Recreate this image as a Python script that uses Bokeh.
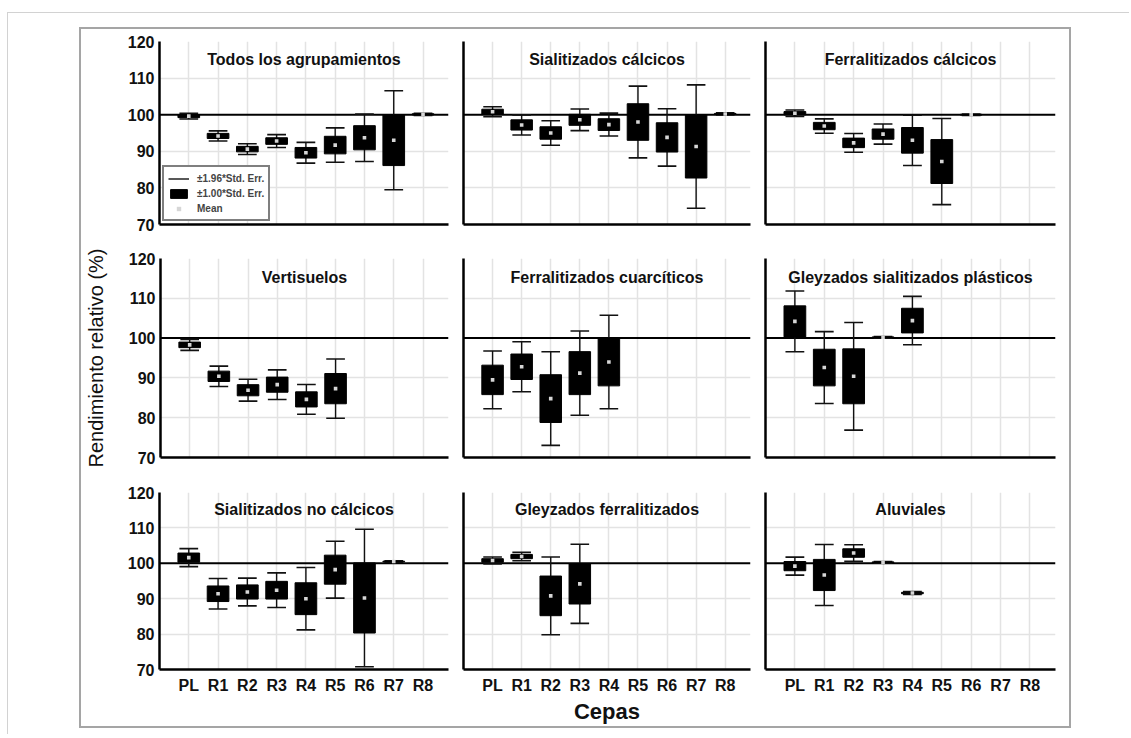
import numpy as np
from bokeh.plotting import figure
from bokeh.layouts import row, column
from bokeh.models import (ColumnDataSource, Range1d, FixedTicker, Span, Label,
                          Legend, LegendItem)
from bokeh.embed import file_html
from bokeh.resources import INLINE

# ---- data: relative yield (%) per strain, mean and standard error ----
strains = ["PL", "R1", "R2", "R3", "R4", "R5", "R6", "R7", "R8"]
y_ticks = [70, 80, 90, 100, 110, 120]

mean_todos = [99.6, 94.2, 90.6, 92.8, 89.6, 91.7, 93.7, 93.0, 100.1]
se_todos = [0.4, 0.7, 0.75, 0.9, 1.45, 2.4, 3.3, 6.9, 0.15]

mean_sial_calc = [100.8, 97.2, 95.0, 98.6, 97.3, 98.0, 93.8, 91.3, 100.2]
se_sial_calc = [0.7, 1.4, 1.7, 1.5, 1.6, 5.0, 4.0, 8.6, 0.15]

mean_ferr_calc = [100.4, 96.9, 92.3, 94.7, 93.0, 87.2, 100.0, None, None]
se_ferr_calc = [0.45, 1.0, 1.3, 1.4, 3.5, 6.0, 0.1, None, None]

mean_vert = [98.3, 90.4, 86.9, 88.3, 84.6, 87.3, None, None, None]
se_vert = [0.7, 1.3, 1.4, 1.9, 1.9, 3.8, None, None, None]

mean_ferr_cuar = [89.5, 92.8, 84.8, 91.2, 94.0, None, None, None, None]
se_ferr_cuar = [3.7, 3.2, 6.0, 5.4, 6.0, None, None, None, None]

mean_gley_sial = [104.2, 92.6, 90.4, 100.2, 104.4, None, None, None, None]
se_gley_sial = [3.9, 4.6, 6.9, 0.1, 3.1, None, None, None, None]

mean_sial_nocalc = [101.6, 91.4, 91.9, 92.4, 90.0, 98.2, 90.2, 100.5, None]
se_sial_nocalc = [1.3, 2.2, 2.0, 2.5, 4.5, 4.1, 9.9, 0.1, None]

mean_gley_ferr = [100.8, 101.9, 90.8, 94.2, None, None, None, None, None]
se_gley_ferr = [0.5, 0.6, 5.6, 5.7, None, None, None, None, None]

mean_aluv = [99.2, 96.7, 102.9, 100.3, 91.6, None, None, None, None]
se_aluv = [1.3, 4.4, 1.2, 0.1, 0.2, None, None, None, None]

panels = [
    ("Todos los agrupamientos", mean_todos, se_todos),
    ("Sialitizados cálcicos", mean_sial_calc, se_sial_calc),
    ("Ferralitizados cálcicos", mean_ferr_calc, se_ferr_calc),
    ("Vertisuelos", mean_vert, se_vert),
    ("Ferralitizados cuarcíticos", mean_ferr_cuar, se_ferr_cuar),
    ("Gleyzados sialitizados plásticos", mean_gley_sial, se_gley_sial),
    ("Sialitizados no cálcicos", mean_sial_nocalc, se_sial_nocalc),
    ("Gleyzados ferralitizados", mean_gley_ferr, se_gley_ferr),
    ("Aluviales", mean_aluv, se_aluv),
]

# ---- layout geometry (pixels) ----
FONT = "Liberation Sans"
COL_LEFT = [78, 8, 8]
COL_FRAME = [289, 287, 290]
COL_RIGHT = [7, 7, 14]
ROW_TOP = [12, 17, 17]
ROW_FRAME = [183, 199, 178]
ROW_BOTTOM = [17, 18, 56]
BOX_W = 0.74
CAP_W = 0.64


def make_panel(r, c, title, means, ses):
    p = figure(width=COL_LEFT[c] + COL_FRAME[c] + COL_RIGHT[c],
               height=ROW_TOP[r] + ROW_FRAME[r] + ROW_BOTTOM[r],
               x_range=Range1d(0, 9.87), y_range=Range1d(70, 120),
               output_backend="svg", toolbar_location=None, min_border=0,
               min_border_left=COL_LEFT[c], min_border_right=COL_RIGHT[c],
               min_border_top=ROW_TOP[r], min_border_bottom=ROW_BOTTOM[r])
    p.outline_line_color = None
    p.background_fill_color = "white"
    p.border_fill_color = "white"

    # grid: vertical lines at each strain, horizontal every 10 %
    p.xgrid.ticker = FixedTicker(ticks=list(range(1, len(strains) + 1)))
    p.ygrid.ticker = FixedTicker(ticks=[80, 90, 110])
    for g in (p.xgrid, p.ygrid):
        g.grid_line_color = "#e3e3e3"
        g.grid_line_width = 1.5

    # axes
    p.xaxis.ticker = FixedTicker(ticks=list(range(1, len(strains) + 1)) if r == 2 else [])
    p.xaxis.major_label_overrides = {i + 1: s for i, s in enumerate(strains)}
    p.yaxis.ticker = FixedTicker(ticks=y_ticks if c == 0 else [])
    for ax in (p.xaxis, p.yaxis):
        ax.axis_line_color = "black"
        ax.axis_line_width = 2.5
        ax.major_tick_line_color = None
        ax.minor_tick_line_color = None
        ax.major_tick_out = 0
        ax.major_label_text_font = FONT
        ax.major_label_text_font_style = "bold"
        ax.major_label_text_font_size = "16px"
        ax.major_label_text_color = "#111111"
    p.xaxis.major_label_standoff = 7
    p.yaxis.major_label_standoff = 5

    # reference line at 100 %
    p.add_layout(Span(location=100, dimension="width", line_color="black",
                      line_width=2, level="underlay"))

    keep = [i for i, m in enumerate(means) if m is not None]
    x = np.array([i + 1 for i in keep], dtype=float)
    m = np.array([means[i] for i in keep], dtype=float)
    s = np.array([ses[i] for i in keep], dtype=float)
    src = ColumnDataSource(dict(
        x=x, mean=m, lo1=m - s, hi1=m + s, lo2=m - 1.96 * s, hi2=m + 1.96 * s,
        cl=x - CAP_W / 2, cr=x + CAP_W / 2))

    whisk = p.segment(x0="x", y0="lo2", x1="x", y1="hi2", source=src,
                      line_color="#111111", line_width=1.4)
    p.segment(x0="cl", y0="lo2", x1="cr", y1="lo2", source=src,
              line_color="#111111", line_width=1.6)
    p.segment(x0="cl", y0="hi2", x1="cr", y1="hi2", source=src,
              line_color="#111111", line_width=1.6)
    box = p.vbar(x="x", width=BOX_W, bottom="lo1", top="hi1", source=src,
                 fill_color="black", line_color="black", line_width=1)
    dots = p.scatter(x="x", y="mean", source=src, marker="square", size=3.6,
                     fill_color="#d6d6d6", line_color=None)

    xr = p.x_range
    p.add_layout(Label(x=(xr.start + xr.end) / 2, y=115.2, text=title,
                       text_align="center", text_baseline="middle",
                       text_font=FONT, text_font_style="bold",
                       text_font_size="16px", text_color="#111111"))
    return p, whisk, box, dots


figs = []
for k, (title, means, ses) in enumerate(panels):
    r, c = divmod(k, 3)
    p, whisk, box, dots = make_panel(r, c, title, means, ses)
    if k == 0:
        legend = Legend(items=[
            LegendItem(label="±1.96*Std. Err.", renderers=[whisk]),
            LegendItem(label="±1.00*Std. Err.", renderers=[box]),
            LegendItem(label="Mean", renderers=[dots]),
        ], location=(3, 3), margin=0, padding=4, spacing=1,
            glyph_width=21, glyph_height=11, label_height=14,
            label_standoff=8, label_text_font=FONT,
            label_text_font_style="bold", label_text_font_size="10px",
            border_line_color="black", border_line_width=2,
            background_fill_color="white", background_fill_alpha=1)
        p.add_layout(legend)
    if k == 3:
        p.yaxis.axis_label = "Rendimiento relativo (%)"
        p.yaxis.axis_label_text_font = FONT
        p.yaxis.axis_label_text_font_style = "normal"
        p.yaxis.axis_label_text_font_size = "20px"
        p.yaxis.axis_label_text_color = "#111111"
        p.yaxis.axis_label_standoff = 19
    if k == 7:
        p.xaxis.axis_label = "Cepas"
        p.xaxis.axis_label_text_font = FONT
        p.xaxis.axis_label_text_font_style = "bold"
        p.xaxis.axis_label_text_font_size = "22px"
        p.xaxis.axis_label_text_color = "#111111"
        p.xaxis.axis_label_standoff = 2
    figs.append(p)

grid = column(row(*figs[0:3]), row(*figs[3:6]), row(*figs[6:9]))
framed = column(grid, margin=(14, 58, 6, 71),
                styles={"border": "2px solid #a5a5a5"})
page = column(framed, margin=(12, 0, 0, 7),
              styles={"border-top": "1px solid #d2d2d2",
                      "border-left": "1px solid #d2d2d2"})

open("out.html", "w").write(file_html(page, INLINE))
